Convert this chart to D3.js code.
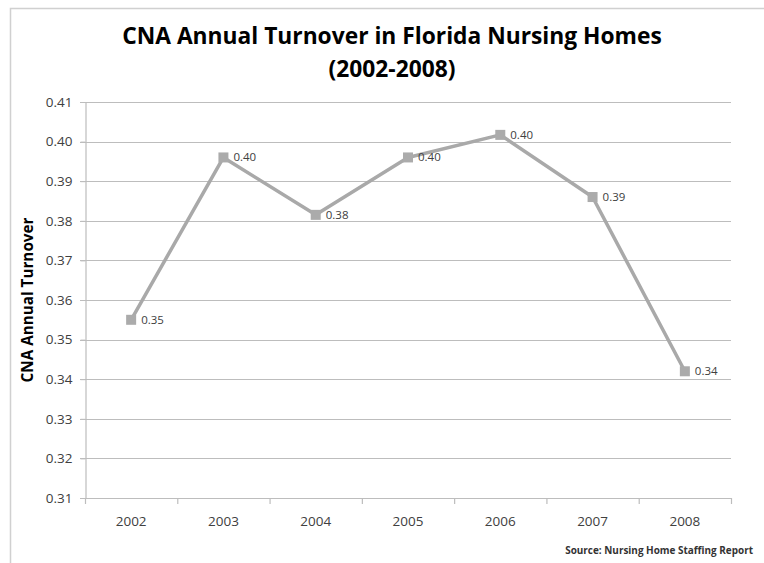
<!DOCTYPE html>
<html>
<head>
<meta charset="utf-8">
<script src="https://cdn.jsdelivr.net/npm/d3@7"></script>
<style>
  body { margin: 0; background: #fff; }
  svg text { font-family: "Open Sans", "Liberation Sans", sans-serif; }
</style>
</head>
<body>
<div id="chart"></div>
<script>
// data
const years = ["2002", "2003", "2004", "2005", "2006", "2007", "2008"];
const turnover = [0.355, 0.396, 0.3815, 0.396, 0.4017, 0.386, 0.342];
const yTicks = [0.31, 0.32, 0.33, 0.34, 0.35, 0.36, 0.37, 0.38, 0.39, 0.40, 0.41];

let width = 764, height = 563;
let svg = d3.select("#chart").append("svg")
    .attr("width", width)
    .attr("height", height);

// chart frame
svg.append("rect")
    .attr("x", 10.5).attr("y", 8.5)
    .attr("width", 800).attr("height", 600)
    .attr("fill", "#fff")
    .attr("stroke", "#d0d0d0")
    .attr("stroke-width", 1.5);

const plot = { left: 85, right: 731, top: 102, bottom: 498 };

let x = d3.scaleBand().domain(years).range([plot.left, plot.right]);
let y = d3.scaleLinear().domain([0.31, 0.41]).range([plot.bottom, plot.top]);

// gridlines
svg.append("g")
    .selectAll("line")
    .data(yTicks)
    .enter().append("line")
    .attr("x1", plot.left - 5).attr("x2", plot.right)
    .attr("y1", d => Math.round(y(d)) + 0.5)
    .attr("y2", d => Math.round(y(d)) + 0.5)
    .attr("stroke", "#bdbdbd")
    .attr("stroke-width", 1.2);

// y axis
let yAxis = svg.append("g")
    .attr("transform", `translate(${plot.left + 0.5},0)`)
    .call(d3.axisLeft(y).tickValues(yTicks).tickFormat(d3.format(".2f")).tickSize(5).tickPadding(8));
yAxis.select(".domain").attr("stroke", "#bdbdbd").attr("stroke-width", 1.2);
yAxis.selectAll(".tick line").attr("stroke", "#bdbdbd");
yAxis.selectAll("text").attr("font-size", 13.5).attr("fill", "#404040");

// x axis
let xAxis = svg.append("g")
    .attr("transform", `translate(0,${Math.round(plot.bottom) + 0.5})`)
    .call(d3.axisBottom(x).tickSize(0).tickPadding(18));
xAxis.select(".domain").remove();
xAxis.selectAll("text").attr("font-size", 13.5).attr("fill", "#404040");
svg.append("g")
    .selectAll("line")
    .data(years.concat(["end"]))
    .enter().append("line")
    .attr("x1", (d, i) => plot.left + i * x.step() + 0.5)
    .attr("x2", (d, i) => plot.left + i * x.step() + 0.5)
    .attr("y1", plot.bottom)
    .attr("y2", plot.bottom + 6)
    .attr("stroke", "#bdbdbd")
    .attr("stroke-width", 1.2);

// series line
let line = d3.line()
    .x((d, i) => x(years[i]) + x.bandwidth() / 2)
    .y(d => y(d));
svg.append("path")
    .datum(turnover)
    .attr("d", line)
    .attr("fill", "none")
    .attr("stroke", "#a9a9a9")
    .attr("stroke-width", 3.5)
    .attr("stroke-linejoin", "round");

// markers
svg.append("g")
    .selectAll("rect")
    .data(turnover)
    .enter().append("rect")
    .attr("x", (d, i) => x(years[i]) + x.bandwidth() / 2 - 5)
    .attr("y", d => y(d) - 5)
    .attr("width", 10).attr("height", 10)
    .attr("fill", "#ababab");

// data labels
svg.append("g")
    .selectAll("text")
    .data(turnover)
    .enter().append("text")
    .attr("x", (d, i) => x(years[i]) + x.bandwidth() / 2 + 10)
    .attr("y", d => y(d) + 4)
    .attr("font-size", 11.5)
    .attr("fill", "#404040")
    .text(d => d3.format(".2f")(d));

// title
let title = svg.append("g").attr("font-weight", "bold").attr("fill", "#000").attr("text-anchor", "middle");
let t1 = title.append("text").attr("x", 392).attr("y", 44).attr("font-size", 22)
    .text("CNA Annual Turnover in Florida Nursing Homes");
let t2 = title.append("text").attr("x", 392).attr("y", 77).attr("font-size", 22)
    .text("(2002-2008)");
// fit title to roughly the width seen in the reference
let fs = 22 * 540 / t1.node().getComputedTextLength();
t1.attr("font-size", fs);
t2.attr("font-size", fs);

// y axis title
let yt = svg.append("text")
    .attr("transform", "translate(33,300) rotate(-90)")
    .attr("text-anchor", "middle")
    .attr("font-size", 14)
    .attr("font-weight", "bold")
    .attr("fill", "#000")
    .text("CNA Annual Turnover");
let yfs = 14 * 165 / yt.node().getComputedTextLength();
yt.attr("font-size", yfs);

// source note
let src = svg.append("text")
    .attr("x", 753).attr("y", 554)
    .attr("text-anchor", "end")
    .attr("font-size", 9)
    .attr("font-weight", "bold")
    .attr("fill", "#333")
    .text("Source: Nursing Home Staffing Report");
let sfs = 9 * 188 / src.node().getComputedTextLength();
src.attr("font-size", sfs);
</script>
</body>
</html>
